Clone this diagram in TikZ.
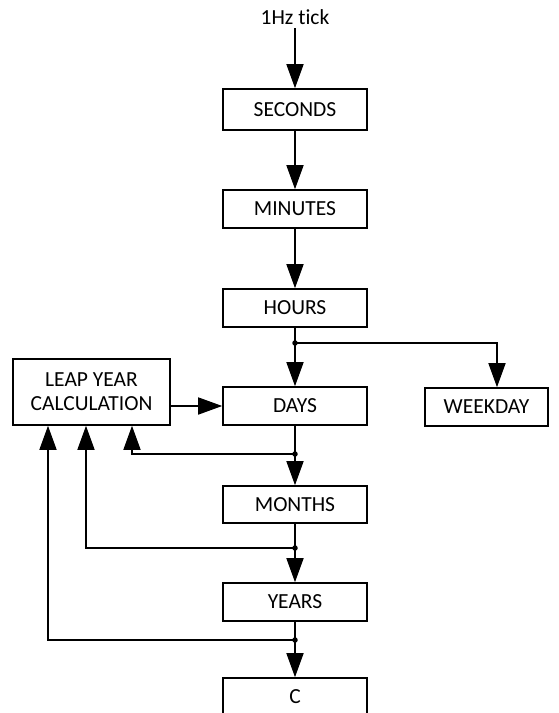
\documentclass[tikz,border=0pt]{standalone}
\usepackage{fontspec}
\setmainfont{Carlito}[RawFeature=-liga]
\usetikzlibrary{arrows.meta}
\begin{document}
\begin{tikzpicture}[x=1pt,y=-1pt,
 box/.style={draw,line width=1.6pt,minimum width=144pt,minimum height=38pt,inner sep=0pt,font=\fontsize{21.5}{24}\selectfont},
 conn/.style={line width=1.6pt,-{Triangle[length=24pt,width=17pt]}},
 wire/.style={line width=1.6pt},
 dot/.style={fill,circle,inner sep=0pt,minimum size=5.5pt}]
\useasboundingbox (0,0) rectangle (558,713);
\clip (0,0) rectangle (558,713);
\node[font=\fontsize{21.5}{24}\selectfont] (tick) at (295,17) {1Hz tick};
\node[box,minimum height=41pt] (sec) at (295,109.5) {SECONDS};
\node[box] (min) at (295,209) {MINUTES};
\node[box] (hrs) at (295,308) {HOURS};
\node[box] (days) at (295,406) {DAYS};
\node[box,minimum height=37pt] (mon) at (295,504.5) {MONTHS};
\node[box] (yrs) at (295,602) {YEARS};
\node[box] (c) at (295,697) {C};
\node[box,minimum width=123pt] (wk) at (486.5,407) {WEEKDAY};
\node[box,minimum width=157pt,minimum height=66pt,align=center] (leap) at (91.5,392) {LEAP YEAR\\CALCULATION};
\node[dot] (dh) at (295,343) {};
\node[dot] (dd) at (295,454) {};
\node[dot] (dm) at (295,548) {};
\node[dot] (dy) at (295,640) {};
\draw[conn] (tick) -- (sec);
\draw[conn] (sec) -- (min);
\draw[conn] (min) -- (hrs);
\draw[wire] (hrs) -- (dh.center);
\draw[conn] (dh.center) -- (days);
\draw[conn] (dh.center) -| ([xshift=10.5pt]wk.north);
\draw[conn] (leap.east |- days) -- (days.west);
\draw[wire] (days) -- (dd.center);
\draw[conn] (dd.center) -- (mon);
\draw[conn] (dd.center) -| ([xshift=40.5pt]leap.south);
\draw[wire] (mon) -- (dm.center);
\draw[conn] (dm.center) -- (yrs);
\draw[conn] (dm.center) -| ([xshift=-5.5pt]leap.south);
\draw[wire] (yrs) -- (dy.center);
\draw[conn] (dy.center) -- (c);
\draw[conn] (dy.center) -| ([xshift=-43.5pt]leap.south);
\end{tikzpicture}
\end{document}
